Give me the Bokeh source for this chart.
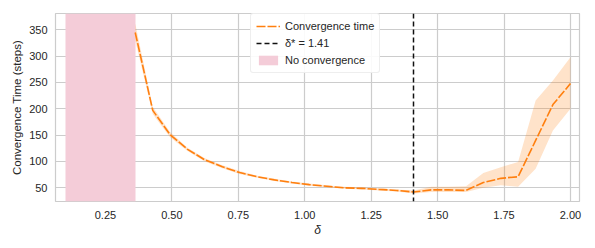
from bokeh.plotting import figure
from bokeh.models import Range1d, FixedTicker, NumeralTickFormatter, Legend, LegendItem, ColumnDataSource
from bokeh.embed import file_html
from bokeh.resources import INLINE

# ---- data ----
delta = [0.362, 0.428, 0.493, 0.559, 0.624, 0.690, 0.755, 0.821, 0.886, 0.952,
         1.017, 1.083, 1.148, 1.214, 1.279, 1.345, 1.410, 1.476, 1.541, 1.607,
         1.672, 1.738, 1.803, 1.869, 1.934, 2.000]
conv_time = [345, 197, 151, 123, 103, 90, 79, 71, 65, 60,
             56, 53, 50, 49, 47, 45, 42, 46, 46, 45,
             60, 68, 71, 140, 208, 248]
conv_lower = [330, 190, 146, 120, 100, 87, 76, 69, 63, 58,
              54, 51, 48, 47, 45, 43, 39, 42, 42, 42,
              50, 55, 52, 86, 159, 200]
conv_upper = [362, 204, 156, 126, 106, 93, 82, 73, 67, 62,
              58, 55, 52, 51, 49, 47, 45, 52, 52, 53,
              78, 89, 99, 216, 254, 298]
delta_star = 1.41
no_conv_start = [0.1]
no_conv_end = [0.362]
x_ticks = [0.25, 0.50, 0.75, 1.00, 1.25, 1.50, 1.75, 2.00]
y_ticks = [50, 100, 150, 200, 250, 300, 350]

FONT = "Liberation Sans"
TXT = "#262626"
GRID = "#cccccc"
ORANGE = "#ff7f0e"

p = figure(width=595, height=248, output_backend="svg", toolbar_location=None,
           x_range=Range1d(0.062, 2.034), y_range=Range1d(24, 381),
           min_border_left=55, min_border_right=16, min_border_top=13, min_border_bottom=47)

p.background_fill_color = "white"
p.border_fill_color = "white"
p.outline_line_color = GRID
p.outline_line_width = 1.2

src = ColumnDataSource(dict(delta=delta, t=conv_time, lo=conv_lower, hi=conv_upper))

strip = p.vstrip(x0=no_conv_start, x1=no_conv_end, fill_color="#f4ccd8", fill_alpha=1.0, line_color=None)
p.varea(x="delta", y1="lo", y2="hi", source=src, fill_color=ORANGE, fill_alpha=0.22)
line = p.line(x="delta", y="t", source=src, line_color=ORANGE, line_width=1.6, line_dash="9 2")
vs = p.vspan(x=[delta_star], line_color="#111111", line_width=1.5, line_dash="5 3")

legend = Legend(items=[
    LegendItem(label="Convergence time", renderers=[line]),
    LegendItem(label="δ* = 1.41", renderers=[vs]),
    LegendItem(label="No convergence", renderers=[strip]),
], location=(195, 128))
legend.label_text_font = FONT
legend.label_text_font_size = "11px"
legend.label_text_color = TXT
legend.label_height = 14
legend.glyph_height = 12
legend.glyph_width = 24
legend.spacing = 3
legend.padding = 5
legend.margin = 0
legend.border_line_color = "#dddddd"
legend.border_line_width = 1
legend.border_radius = 3
legend.background_fill_alpha = 0.9
p.add_layout(legend)

for ax in (p.xaxis[0], p.yaxis[0]):
    ax.major_label_text_font = FONT
    ax.major_label_text_font_size = "11px"
    ax.major_label_text_color = TXT
    ax.axis_label_text_font = FONT
    ax.axis_label_text_font_size = "12px"
    ax.axis_label_text_color = TXT
    ax.axis_line_color = None
    ax.major_tick_line_color = None
    ax.minor_tick_line_color = None
    ax.major_tick_out = 0
    ax.major_tick_in = 0
    ax.minor_tick_out = 0
    ax.minor_tick_in = 0

p.xaxis.major_label_standoff = 9
p.yaxis.major_label_standoff = 8
p.xaxis.ticker = FixedTicker(ticks=x_ticks)
p.yaxis.ticker = FixedTicker(ticks=y_ticks)
p.xaxis.formatter = NumeralTickFormatter(format="0.00")
p.xaxis.axis_label = "δ"
p.xaxis.axis_label_text_font_style = "italic"
p.xaxis.axis_label_standoff = 1
p.yaxis.axis_label = "Convergence Time (steps)"
p.yaxis.axis_label_text_font_style = "normal"
p.yaxis.axis_label_text_font_size = "11.5px"
p.yaxis.axis_label_standoff = 3

p.xgrid.grid_line_color = GRID
p.ygrid.grid_line_color = GRID
p.xgrid.grid_line_width = 1.2
p.ygrid.grid_line_width = 1.2

open("out.html", "w").write(file_html(p, INLINE))
